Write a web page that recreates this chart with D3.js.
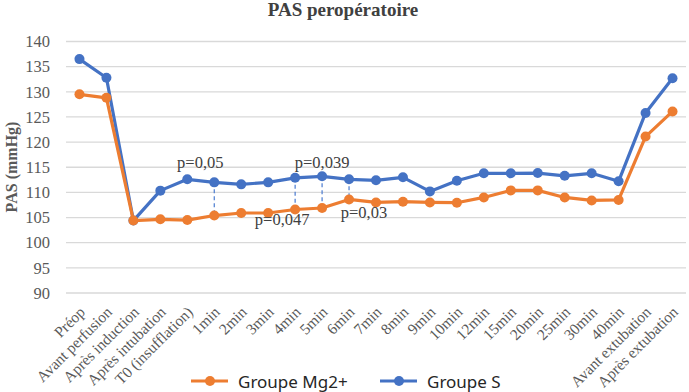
<!DOCTYPE html>
<html>
<head>
<meta charset="utf-8">
<script src="https://cdn.jsdelivr.net/npm/d3@7"></script>
<style>
html,body{margin:0;padding:0;background:#fff;}
svg{display:block;}
</style>
</head>
<body>
<svg id="chart" width="689" height="392"></svg>
<script>
const categories = ["Préop","Avant perfusion","Après induction","Après intubation","T0 (insufflation)","1min","2min","3min","4min","5min","6min","7min","8min","9min","10min","12min","15min","20min","25min","30min","40min","Avant extubation","Après extubation"];
const groupeMg = [129.5,128.8,104.4,104.65,104.5,105.4,105.9,105.9,106.6,106.9,108.6,108.0,108.15,108.0,107.95,109.0,110.4,110.4,109.0,108.4,108.5,121.1,126.1];
const groupeS = [136.5,132.8,104.4,110.35,112.6,112.0,111.6,112.0,112.9,113.2,112.6,112.4,113.0,110.2,112.3,113.8,113.8,113.85,113.3,113.8,112.2,125.8,132.7];
const yTicks = [90,95,100,105,110,115,120,125,130,135,140];
const pLabels = [
  {cat:"T0 (insufflation)", text:"p=0,05", pos:"above"},
  {cat:"5min", text:"p=0,039", pos:"above"},
  {cat:"3min", text:"p=0,047", pos:"below"},
  {cat:"6min", text:"p=0,03", pos:"below"}
];
const dashedCats = ["1min","4min","5min","6min"];

const svg = d3.select("#chart");
const pLeft = 66, pRight = 686, pTop = 41.5, pBottom = 293;
const x = d3.scalePoint().domain(categories).range([pLeft, pRight]).padding(0.5);
const y = d3.scaleLinear().domain([90,140]).range([pBottom, pTop]);

// gridlines
svg.append("g").selectAll("line").data(yTicks).join("line")
  .attr("x1", pLeft).attr("x2", pRight)
  .attr("y1", d => y(d)).attr("y2", d => y(d))
  .attr("stroke", "#d9d9d9").attr("stroke-width", 1.3);

// y axis labels
const yAxis = d3.axisLeft(y).tickValues(yTicks).tickSize(0).tickPadding(0);
const gy = svg.append("g").attr("transform", `translate(${pLeft-16},0)`).call(yAxis);
gy.select(".domain").remove();
gy.selectAll("text").attr("font-family", "'Liberation Serif','Times New Roman',serif")
  .attr("font-size", 16.5).attr("fill", "#595959");

// x axis labels
const xAxis = d3.axisBottom(x).tickSize(0).tickPadding(0);
const gx = svg.append("g").attr("transform", `translate(0,${pBottom})`).call(xAxis);
gx.select(".domain").remove();
gx.selectAll("text")
  .attr("font-family", "'Liberation Serif','Times New Roman',serif")
  .attr("font-size", 15.5).attr("fill", "#595959")
  .attr("text-anchor", "end")
  .attr("dy", null).attr("y", 0)
  .attr("transform", "translate(6,20) rotate(-45)");

// dashed lines
svg.append("g").selectAll("line").data(dashedCats).join("line")
  .attr("x1", d => x(d)).attr("x2", d => x(d))
  .attr("y1", d => y(groupeS[categories.indexOf(d)])).attr("y2", d => y(groupeMg[categories.indexOf(d)]))
  .attr("stroke", "#4a7bd0").attr("stroke-width", 1.2).attr("stroke-dasharray", "4,3");

function drawSeries(data, color) {
  const line = d3.line().x((d,i) => x(categories[i])).y(d => y(d));
  svg.append("path").datum(data).attr("d", line)
    .attr("fill", "none").attr("stroke", color).attr("stroke-width", 3.2).attr("stroke-linejoin", "round");
  svg.append("g").selectAll("circle").data(data).join("circle")
    .attr("cx", (d,i) => x(categories[i])).attr("cy", d => y(d)).attr("r", 5).attr("fill", color);
}
drawSeries(groupeS, "#4472C4");
drawSeries(groupeMg, "#ED7D31");

// p labels
svg.append("g").selectAll("text").data(pLabels).join("text")
  .attr("x", d => {
    const xi = x(d.cat);
    if (d.cat === "T0 (insufflation)") return xi + 13;
    if (d.cat === "5min") return xi;
    if (d.cat === "3min") return xi + 14;
    return xi + 15;
  })
  .attr("y", d => d.pos === "above" ? 168 : (d.cat === "3min" ? 225 : 218))
  .attr("text-anchor", "middle")
  .attr("font-family", "'Liberation Serif','Times New Roman',serif")
  .attr("font-size", 16.5).attr("fill", "#404040")
  .text(d => d.text);

// title
svg.append("text").attr("x", 343).attr("y", 16).attr("text-anchor", "middle")
  .attr("font-family", "'Liberation Serif','Times New Roman',serif")
  .attr("font-weight", "bold").attr("font-size", 19).attr("fill", "#404040")
  .text("PAS peropératoire");

// y title
svg.append("text").attr("transform", "translate(17,167) rotate(-90)").attr("text-anchor", "middle")
  .attr("font-family", "'Liberation Serif','Times New Roman',serif")
  .attr("font-weight", "bold").attr("font-size", 16).attr("fill", "#595959")
  .text("PAS (mmHg)");

// legend
const legend = [
  {name:"Groupe Mg2+", color:"#ED7D31", x:191},
  {name:"Groupe S", color:"#4472C4", x:380}
];
const lg = svg.append("g").selectAll("g").data(legend).join("g")
  .attr("transform", d => `translate(${d.x},381)`);
lg.append("line").attr("x1", 0).attr("x2", 37).attr("y1", 0).attr("y2", 0)
  .attr("stroke", d => d.color).attr("stroke-width", 3.2);
lg.append("circle").attr("cx", 19).attr("cy", 0).attr("r", 5).attr("fill", d => d.color);
lg.append("text").attr("x", 47).attr("y", 6.5)
  .attr("font-family", "'Noto Sans','Open Sans',sans-serif")
  .attr("font-size", 17).attr("fill", "#262626")
  .text(d => d.name);
</script>
</body>
</html>
